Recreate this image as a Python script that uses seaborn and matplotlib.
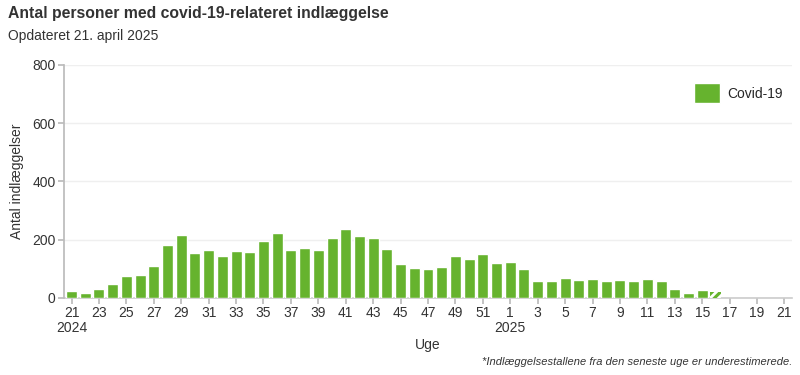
import matplotlib
matplotlib.use("Agg")
import matplotlib.pyplot as plt
import seaborn as sns
import pandas as pd
import numpy as np

weeks_2024 = list(range(21, 53))
weeks_2025 = list(range(1, 22))
values_2024 = [22, 15, 30, 47, 75, 78, 109, 182, 216, 154, 164, 144, 161, 158, 195, 223,
               164, 171, 164, 206, 237, 213, 206, 168, 116, 102, 99, 106, 144, 133, 151, 120]
values_2025 = [123, 99, 57, 57, 68, 61, 64, 57, 61, 57, 64, 57, 30, 16, 26, 20]
series_name = "Covid-19"
title = "Antal personer med covid-19-relateret indlæggelse"
subtitle = "Opdateret 21. april 2025"
ylabel = "Antal indlæggelser"
xlabel = "Uge"
footnote = "*Indlæggelsestallene fra den seneste uge er underestimerede."
yticks = [0, 200, 400, 600, 800]

cats = [f"2024-{w}" for w in weeks_2024] + [f"2025-{w}" for w in weeks_2025]
data_cats = cats[:len(values_2024) + len(values_2025)]
df = pd.DataFrame({"uge": data_cats, "antal": values_2024 + values_2025, "serie": series_name})

sns.set_theme(style="white")
plt.rcParams['font.family'] = ['Liberation Sans', 'DejaVu Sans']
plt.rcParams['hatch.color'] = 'white'
plt.rcParams['hatch.linewidth'] = 2.0

color = "#66b32e"
fig = plt.figure(figsize=(8, 3.75), dpi=100)
ax = fig.add_axes([0.08, 0.206, 0.91, 0.621])
sns.barplot(data=df, x="uge", y="antal", hue="serie", order=cats, palette=[color],
            width=0.8, ax=ax, saturation=1, legend=True, zorder=3)

# hatch the last (underestimated) bar
last = ax.patches[len(data_cats) - 1]
last.set_hatch("////")
last.set_edgecolor("white")
last.set_linewidth(0)

ax.set_xlim(-0.55, len(cats) - 0.45)
ax.set_ylim(0, 800)
ax.set_yticks(yticks)
ax.set_yticklabels([str(v) for v in yticks], fontsize=10, color="#333333")

tick_pos = list(range(0, len(cats), 2))
labels = []
for p in tick_pos:
    y, w = cats[p].split("-")
    lab = w
    if p == 0:
        lab = f"{w}\n2024"
    elif y == "2025" and w == "1":
        lab = f"{w}\n2025"
    labels.append(lab)
ax.set_xticks(tick_pos)
ax.set_xticklabels(labels, fontsize=10, color="#333333", linespacing=1.1)

ax.grid(axis="y", color="#efefef", linewidth=1)
ax.set_axisbelow(True)
for s in ["top", "right"]:
    ax.spines[s].set_visible(False)
ax.spines["left"].set_color("#bbbbbb")
ax.spines["bottom"].set_color("#cccccc")
ax.spines["bottom"].set_linewidth(1.2)
ax.spines["bottom"].set_zorder(2)
ax.tick_params(axis="both", which="both", length=4, color="#bbbbbb", direction="out",
               bottom=True, left=True, pad=2)

ax.set_ylabel(ylabel, fontsize=10, color="#333333", labelpad=6)
ax.set_xlabel(xlabel, fontsize=10, color="#333333", labelpad=2)

leg = ax.legend(loc="upper right", frameon=False, fontsize=10, handlelength=1.85,
                handleheight=1.85, handletextpad=0.55, bbox_to_anchor=(1.005, 0.975))
for h in leg.legend_handles:
    h.set_hatch(None)

fig.text(0.01, 0.965, title, fontsize=11.3, fontweight="bold", color="#333333", va="center")
fig.text(0.01, 0.905, subtitle, fontsize=10, color="#333333", va="center")
fig.text(0.99, 0.035, footnote, fontsize=8, style="italic", color="#333333",
         ha="right", va="center")

fig.savefig("out.png", dpi=100)
